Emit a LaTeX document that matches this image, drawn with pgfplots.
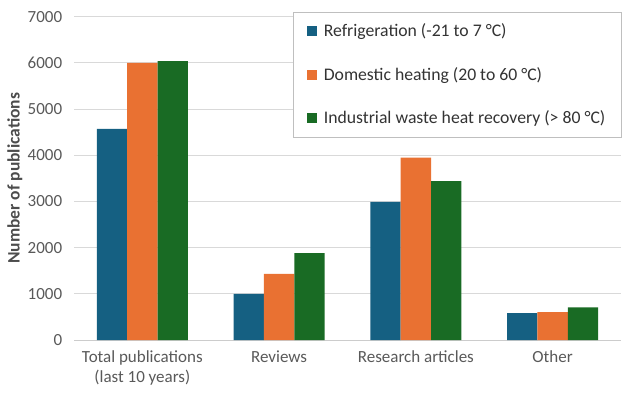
\documentclass[border=0pt]{standalone}
\usepackage{fontspec}
\setmainfont{Carlito}
\usepackage{pgfplots}
\pgfplotsset{compat=1.18}
\definecolor{cblue}{HTML}{156082}
\definecolor{corange}{HTML}{E97132}
\definecolor{cgreen}{HTML}{196B24}
\pgfplotsset{sqlegend/.style={legend image code/.code={\fill[##1] (0pt,-5pt) rectangle (10pt,5pt); \path (15pt,0pt);}}}
\begin{document}
\fontsize{17}{20}\selectfont
\begin{tikzpicture}[x=1pt,y=1pt]
\path[use as bounding box] (0,0) rectangle (632,400);
\begin{axis}[
  at={(74pt,60pt)}, anchor=south west,
  scale only axis, width=547pt, height=323.3pt,
  ymin=0, ymax=7000, ytick={0,1000,...,7000},
  xmin=-0.5, xmax=3.5, xtick={0,1,2,3},
  xticklabels={{Total publications\\(last 10 years)},Reviews,Research articles,Other},
  xticklabel style={align=center, yshift=-5pt},
  yticklabel style={xshift=-6pt},
  ybar=0pt, bar width=30.3pt,
  axis lines*=left,
  y axis line style={draw=none},
  x axis line style={draw=black!20, line width=0.8pt},
  ymajorgrids, grid style={color=black!15, line width=0.8pt},
  major tick length=0pt,
  tick label style={font=\fontsize{17}{20}\selectfont, color=black!65},
  /pgf/number format/assume math mode=true,
  /pgf/number format/1000 sep={},
  ylabel={\bfseries Number of publications},
  ylabel style={at={(axis description cs:-0.108,0.5)}, anchor=center, font=\fontsize{17.5}{20}\selectfont, color=black!70},
  legend style={at={(1,1.013)}, anchor=north east, draw=black!25, fill=white,
    font=\fontsize{17.7}{20}\selectfont, text=black!80, row sep=24pt,
    inner xsep=13.5pt, inner ysep=9pt},
  legend cell align=left,
]
\addplot[fill=cblue, draw=none, sqlegend] coordinates {(0,4570) (1,1000) (2,2990) (3,580)};
\addplot[fill=corange, draw=none, sqlegend] coordinates {(0,6000) (1,1430) (2,3950) (3,605)};
\addplot[fill=cgreen, draw=none, sqlegend] coordinates {(0,6040) (1,1880) (2,3440) (3,705)};
\legend{Refrigeration (-21 to 7 °C), Domestic heating (20 to 60 °C), Industrial waste heat recovery (> 80 °C)}
\end{axis}
\end{tikzpicture}
\end{document}
